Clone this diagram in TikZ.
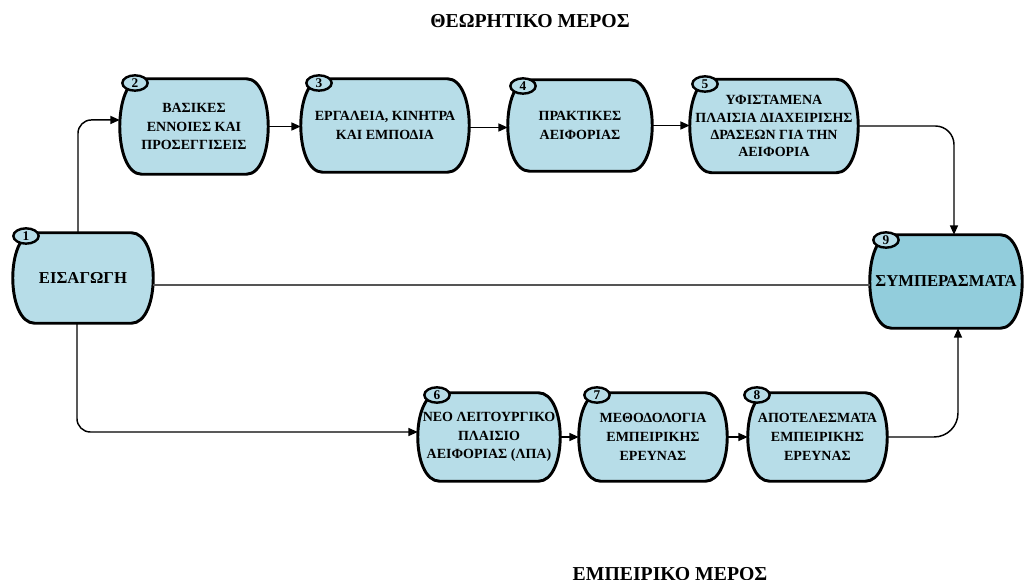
\documentclass[tikz,border=0pt]{standalone}
\usepackage{fontspec}
\setmainfont{Liberation Serif}
\usetikzlibrary{arrows.meta,shapes.geometric,calc,backgrounds}
\definecolor{boxfill}{HTML}{B7DDE8}
\definecolor{endfill}{HTML}{92CDDC}
\definecolor{linegray}{HTML}{555555}

% Outline of a stage: flat top and bottom, bulging sides
\newcommand{\stageoutline}[2]{%
  \path[draw=black, line width=2.2pt, fill=#2, line join=round]
    ($(#1.north west)+(22,0)$) -- ($(#1.north east)+(-22,0)$)
    .. controls ($(#1.north east)+(7.3,0)$) and ($(#1.south east)+(7.3,0)$) .. ($(#1.south east)+(-22,0)$)
    -- ($(#1.south west)+(22,0)$)
    .. controls ($(#1.south west)+(-7.3,0)$) and ($(#1.north west)+(-7.3,0)$) .. cycle;}

\begin{document}
\begin{tikzpicture}[x=0.75pt,y=-0.75pt,
  stage/.style={rectangle, draw=none, inner sep=0pt, align=center,
    font=\bfseries\fontsize{10.5}{14}\selectfont},
  bigstage/.style={stage, font=\bfseries\fontsize{12.5}{15}\selectfont},
  badge/.style={ellipse, draw=black, line width=1.8pt, fill=boxfill,
    minimum width=19pt, minimum height=11.5pt, inner sep=0pt,
    font=\bfseries\fontsize{10}{10}\selectfont},
  conn/.style={draw=black, line width=1.1pt},
  tip/.style={-{Triangle[length=7pt,width=6pt]}},
  heading/.style={inner sep=0pt, font=\bfseries\fontsize{14.8}{16}\selectfont}]

\useasboundingbox (0,0) rectangle (1025,580);

% headings
\node[heading] (t1) at (530,21) {ΘΕΩΡΗΤΙΚΟ ΜΕΡΟΣ};
\node[heading, anchor=north] (t2) at (670,567) {ΕΜΠΕΙΡΙΚΟ ΜΕΡΟΣ};

% stages
\node[bigstage, minimum width=105pt, minimum height=67.5pt] (n1) at (83,278) {ΕΙΣΑΓΩΓΗ};
\node[stage, minimum width=111pt, minimum height=71.25pt] (n2) at (194,126.5) {ΒΑΣΙΚΕΣ\\ΕΝΝΟΙΕΣ ΚΑΙ\\ΠΡΟΣΕΓΓΙΣΕΙΣ};
\node[stage, minimum width=126pt, minimum height=69.75pt] (n3) at (385,125.5) {ΕΡΓΑΛΕΙΑ, ΚΙΝΗΤΡΑ\\ΚΑΙ ΕΜΠΟΔΙΑ};
\node[stage, minimum width=108pt, minimum height=68.25pt] (n4) at (580,125.5) {ΠΡΑΚΤΙΚΕΣ\\ΑΕΙΦΟΡΙΑΣ};
\node[stage, minimum width=126pt, minimum height=69.75pt,
  font=\bfseries\fontsize{10.5}{12.8}\selectfont] (n5) at (774,126) {ΥΦΙΣΤΑΜΕΝΑ\\ΠΛΑΙΣΙΑ ΔΙΑΧΕΙΡΙΣΗΣ\\ΔΡΑΣΕΩΝ ΓΙΑ ΤΗΝ\\ΑΕΙΦΟΡΙΑ};
\node[bigstage, minimum width=114pt, minimum height=69.75pt] (n9) at (946,281.5) {ΣΥΜΠΕΡΑΣΜΑΤΑ};
\node[stage, minimum width=106.5pt, minimum height=66pt] (n6) at (489,437) {ΝΕΟ ΛΕΙΤΟΥΡΓΙΚΟ\\ΠΛΑΙΣΙΟ\\ΑΕΙΦΟΡΙΑΣ (ΛΠΑ)};
\node[stage, minimum width=111pt, minimum height=66pt] (n7) at (653,437) {ΜΕΘΟΔΟΛΟΓΙΑ\\ΕΜΠΕΙΡΙΚΗΣ\\ΕΡΕΥΝΑΣ};
\node[stage, minimum width=104.25pt, minimum height=66pt] (n8) at (817.5,437) {ΑΠΟΤΕΛΕΣΜΑΤΑ\\ΕΜΠΕΙΡΙΚΗΣ\\ΕΡΕΥΝΑΣ};

\begin{pgfonlayer}{background}
  \foreach \n in {n1,n2,n3,n4,n5,n6,n7,n8} {\stageoutline{\n}{boxfill}}
  \stageoutline{n9}{endfill}
\end{pgfonlayer}

% number badges
\node[badge] (b1) at (26,236) {1};
\node[badge] (b2) at (135,83) {2};
\node[badge] (b3) at (319,83) {3};
\node[badge] (b4) at (523,86) {4};
\node[badge] (b5) at (705,84) {5};
\node[badge] (b6) at (437,395) {6};
\node[badge] (b7) at (597,395) {7};
\node[badge] (b8) at (757,395) {8};
\node[badge] (b9) at (886,240) {9};

% connectors, upper branch
\draw[conn, tip, rounded corners=10pt] ([xshift=-3.75pt]n1.north) |- ([yshift=4.9pt]n2.west);
\draw[conn, tip] (n2.east) -- (n2.east -| n3.west);
\draw[conn, tip] ([yshift=-1.5pt]n3.east) -- ([yshift=-1.5pt]n3.east -| n4.west);
\draw[conn, tip] (n4.east) -- (n4.east -| n5.west);
\draw[conn, tip, rounded corners=14pt] (n5.east) -| ([xshift=6pt]n9.north);

% direct line
\draw[draw=linegray, line width=0.8pt] ([yshift=-5.25pt]n1.east) -- ([yshift=-5.25pt]n1.east -| n9.west);

% connectors, lower branch
\draw[conn, tip, rounded corners=10pt] ([xshift=-4.5pt]n1.south) |- ([yshift=3.75pt]n6.west);
\draw[conn, tip] (n6.east) -- (n7.west);
\draw[conn, tip] (n7.east) -- (n8.west);
\draw[conn, tip, rounded corners=18pt] (n8.east) -| ([xshift=9pt]n9.south);

\end{tikzpicture}
\end{document}
